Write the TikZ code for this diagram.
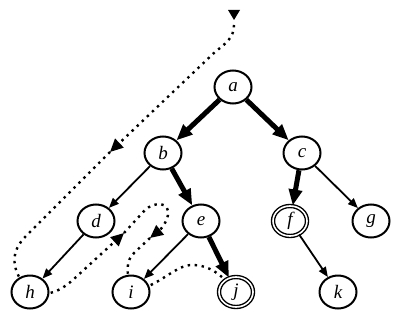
\documentclass[tikz,border=0pt]{standalone}
\usepackage{fontspec}
\setmainfont{Liberation Serif}
\usetikzlibrary{shapes.geometric,arrows.meta,backgrounds}
\tikzset{
  vertex/.style={draw, ellipse, line width=2pt, fill=white, minimum width=37pt,
    minimum height=33pt, inner sep=0pt, font=\fontsize{19}{21}\selectfont\itshape},
  goal/.style={vertex, double, line width=1.4pt, double distance=1.6pt,
    minimum width=34pt, minimum height=30pt},
  heavy/.style={line width=5pt, -{Triangle[length=16pt,width=13pt]}},
  light/.style={line width=1.8pt, -{Triangle[length=10pt,width=8pt]}},
  trace/.style={line width=2.4pt, dash pattern=on 2.4pt off 4.6pt},
  tracetip/.style={trace, -{Triangle[length=13pt,width=12pt]}}
}
\begin{document}
\begin{tikzpicture}[x=1pt,y=-1pt]
\useasboundingbox (0,0) rectangle (403,318);

\node[vertex] (a) at (233,87) {a};
\node[vertex] (b) at (163,153) {b};
\node[vertex] (c) at (302,153) {c};
\node[vertex] (d) at (96,221) {d};
\node[vertex] (e) at (201,221) {e};
\node[goal] (f) at (290,221) {f};
\node[vertex] (g) at (371,221) {g};
\node[vertex] (h) at (30,292) {h};
\node[vertex] (i) at (131,292) {i};
\node[goal] (j) at (236,292) {j};
\node[vertex] (k) at (338,292) {k};

\draw[heavy] (a) -- (b);
\draw[heavy] (a) -- (c);
\draw[heavy] (b) -- (e);
\draw[heavy] (c) -- (f);
\draw[heavy] (e) -- (j);
\draw[light] (b) -- (d);
\draw[light] (d) -- (h);
\draw[light] (e) -- (i);
\draw[light] (c) -- (g);
\draw[light] (f) -- (k);

\coordinate (s) at (234,25);
\coordinate (t1) at (110,152);
\coordinate (t2) at (124,233);
\coordinate (t3) at (150,238);

\begin{scope}[on background layer]
\fill (228,10) -- (240,10) -- (234,20) -- cycle;
\draw[tracetip] (s) .. controls (234,38) and (225,44) .. (215,52) -- (t1);
\draw[trace] (t1) -- (26,236) .. controls (10,252) and (10,270) .. (h.center);
\draw[tracetip] (h.center) .. controls (48,298) and (62,290) .. (75,278) -- (t2);
\draw[tracetip] (t2) -- (145,210) .. controls (155,201) and (170,202) .. (168,215)
  .. controls (166,224) and (160,230) .. (t3);
\draw[trace] (t3) -- (135,252) .. controls (126,260) and (126,270) .. (i.center);
\draw[trace] (i.center) .. controls (160,286) and (175,265) .. (192,265)
  .. controls (210,265) and (222,275) .. (j.center);
\end{scope}
\end{tikzpicture}
\end{document}
